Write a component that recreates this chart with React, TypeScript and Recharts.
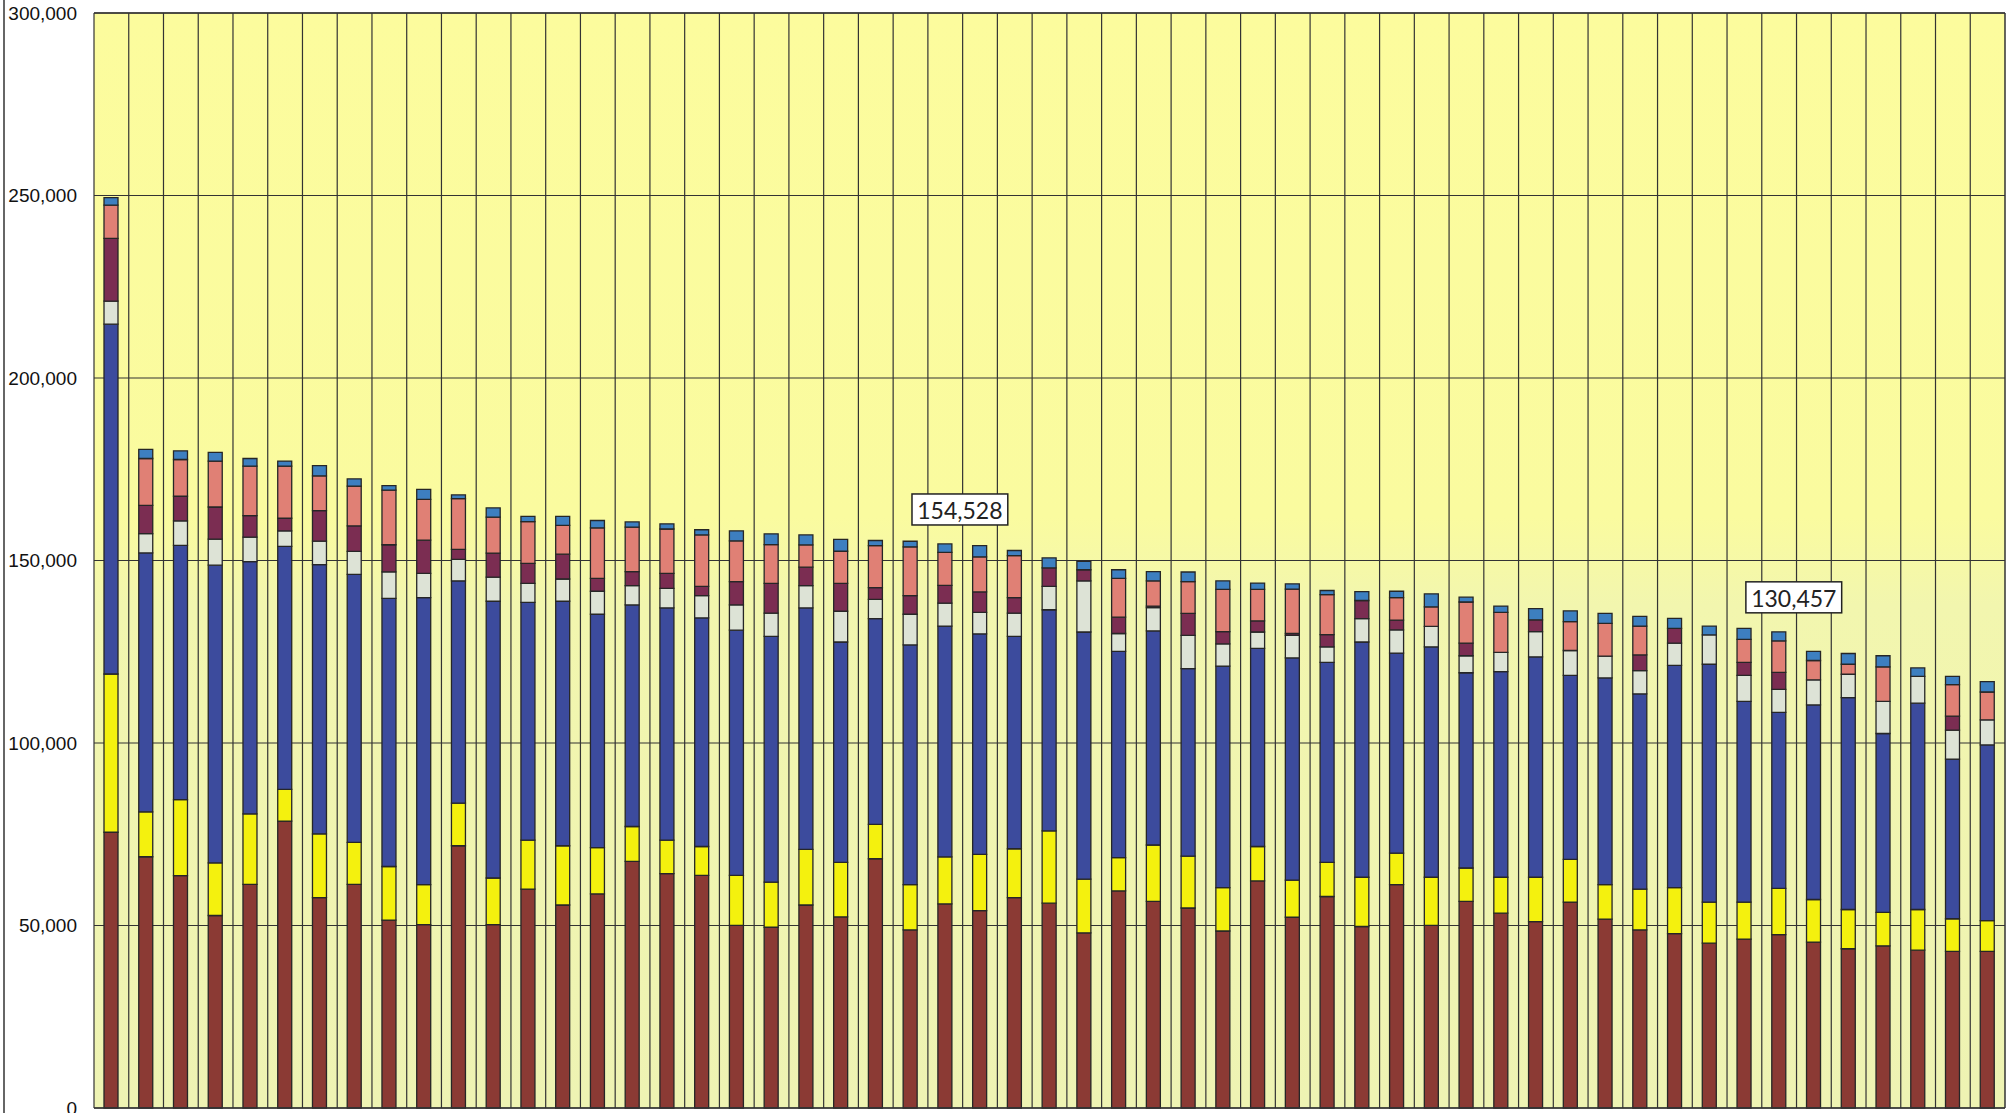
import { BarChart, Bar, XAxis, YAxis, CartesianGrid, LabelList, ReferenceLine } from "recharts";

// 55 stacked columns, bottom segment first
const brown = [75550, 68830, 63650, 52740, 61270, 78620, 57640, 61270, 51480, 50230, 71850, 50230, 59970, 55610, 58650, 67580, 64230, 63730, 50020, 49520, 55610, 52360, 68290, 48800, 55910, 54080, 57640, 56110, 47990, 59460, 56620, 54790, 48500, 62200, 52260, 57940, 49720, 61190, 50020, 56620, 53370, 51040, 56420, 51750, 48800, 47790, 45150, 46270, 47480, 45450, 43630, 44440, 43230, 42920, 42920];
const yellow = [43360, 12310, 20850, 14410, 19310, 8680, 17490, 11480, 14690, 10960, 11670, 12780, 13400, 16240, 12690, 9540, 9140, 7910, 13710, 12380, 15220, 14920, 9440, 12390, 12890, 15430, 13390, 19790, 14720, 9140, 15430, 14210, 11870, 9440, 10150, 9340, 13500, 8620, 13200, 9140, 9850, 12180, 11670, 9440, 11170, 12580, 11270, 10150, 12690, 11680, 10760, 9130, 11160, 8930, 8420];
const navy = [95840, 70930, 69670, 81560, 69110, 66590, 73720, 73440, 73450, 78660, 60900, 75830, 65160, 66990, 63940, 60700, 63640, 62630, 67190, 67290, 66180, 60390, 56330, 65670, 63230, 60390, 58160, 60600, 67700, 56530, 58660, 51360, 60700, 54300, 60900, 54810, 64450, 54820, 63130, 53490, 56340, 60390, 50450, 56630, 53490, 60910, 65160, 55010, 48220, 53290, 58060, 49030, 56530, 43750, 48120];
const light = [6290, 5320, 6710, 7140, 6720, 4200, 6440, 6300, 7270, 6600, 5880, 6590, 5180, 6090, 6300, 5280, 5380, 6090, 6900, 6400, 6090, 8430, 5280, 8420, 6300, 5890, 6400, 6400, 14010, 4870, 6400, 9140, 6090, 4470, 6190, 4260, 6390, 6390, 5580, 4660, 5270, 6900, 6800, 5990, 6390, 6090, 8020, 7110, 6290, 6900, 6390, 8830, 7310, 7910, 6900];
const maroon = [17210, 7690, 6720, 8810, 5870, 3490, 8390, 6990, 7420, 9130, 2750, 6600, 5480, 6800, 3550, 3850, 4060, 2540, 6390, 8120, 5070, 7610, 3250, 5080, 4870, 5590, 4260, 5070, 3040, 4470, 400, 5990, 3350, 3050, 500, 3350, 4980, 2640, 0, 3460, 0, 3250, 0, 0, 4270, 4060, 0, 3550, 4670, 0, 0, 0, 0, 3860, 0];
const salmon = [9090, 12870, 10070, 12590, 13570, 14270, 9510, 10920, 14970, 11170, 13900, 9850, 11470, 7910, 13800, 12190, 12180, 14100, 11170, 10650, 6090, 8830, 11470, 13400, 9030, 9640, 11470, 0, 0, 10660, 6910, 8720, 11570, 8620, 12180, 10970, 0, 6190, 5380, 11260, 10960, 0, 7920, 8940, 7920, 0, 0, 6290, 8630, 5280, 2740, 9440, 0, 8630, 7610];
const cap = [2100, 2520, 2380, 2380, 2100, 1400, 2800, 1960, 1260, 2740, 1020, 2530, 1420, 2440, 2030, 1420, 1420, 1420, 2740, 2950, 2740, 3250, 1420, 1520, 2298, 3040, 1420, 2740, 2340, 2330, 2530, 2640, 2340, 1730, 1430, 1110, 2430, 1720, 3560, 1320, 1730, 3050, 2940, 2740, 2640, 2740, 2430, 3050, 2477, 2530, 2940, 3040, 2330, 2230, 2840];

// columns that carry a total callout
const labelled = [24, 48];

const majorTicks = [0, 50000, 100000, 150000, 200000, 250000, 300000];
const minorTicks = Array.from({ length: 31 }, (_, i) => i * 10000);

const series = [
  { key: "brown", fill: "#8b3a34" },
  { key: "yellow", fill: "#f4f10e" },
  { key: "navy", fill: "#3c4b9d" },
  { key: "light", fill: "#dde3d6" },
  { key: "maroon", fill: "#7b2d52" },
  { key: "salmon", fill: "#e08075" },
  { key: "cap", fill: "#3d7fc0" },
];

const data = brown.map((b, i) => {
  const total = b + yellow[i] + navy[i] + light[i] + maroon[i] + salmon[i] + cap[i];
  return {
    name: `${i + 1}`,
    brown: b,
    yellow: yellow[i],
    navy: navy[i],
    light: light[i],
    maroon: maroon[i],
    salmon: salmon[i],
    cap: cap[i],
    total: labelled.includes(i) ? total : undefined,
  };
});

const TotalBox = (props: any) => {
  const { x, y, width, value } = props;
  if (value == null) return null;
  const text = Number(value).toLocaleString("en-US");
  const w = text.length * 12.4 + 9;
  const cx = x + width / 2 + 15;
  return (
    <g>
      <rect x={cx - w / 2} y={y - 50} width={w} height={31} fill="#ffffff" stroke="#222" strokeWidth={1.5} />
      <text x={cx} y={y - 34} textAnchor="middle" dominantBaseline="central" fontFamily="Lato, 'Open Sans', sans-serif" fontSize={23} fill="#222">
        {text}
      </text>
    </g>
  );
};

const gridStroke = "#333";

export default function App() {
  return (
    <div style={{ position: "absolute", left: 0, top: 0, width: 2011, height: 1113, background: "#ffffff", overflow: "hidden" }}>
      <div style={{ position: "absolute", left: 3, top: 0, width: 1.5, height: 1113, background: "#666" }} />
      <BarChart
        width={2011}
        height={1113}
        data={data}
        margin={{ top: 13, right: 6, bottom: 5, left: 0 }}
        barSize={14}
      >
        <defs>
          <linearGradient id="plotBg" x1="0" y1="0" x2="0" y2="1">
            <stop offset="0%" stopColor="#fcfc9d" />
            <stop offset="46%" stopColor="#fafb9f" />
            <stop offset="54%" stopColor="#f2f6ae" />
            <stop offset="100%" stopColor="#eef3b3" />
          </linearGradient>
        </defs>
        <XAxis xAxisId="cat" dataKey="name" height={0} tick={false} tickLine={false} axisLine={false} />
        <YAxis
          yAxisId="minor"
          domain={[0, 300000]}
          ticks={minorTicks}
          width={0}
          tickSize={5}
          tickFormatter={() => ""}
          axisLine={{ stroke: gridStroke, strokeWidth: 1.3 }}
          tickLine={{ stroke: gridStroke }}
        />
        <YAxis
          yAxisId="major"
          domain={[0, 300000]}
          ticks={majorTicks}
          interval={0}
          width={94}
          tickSize={6}
          tickMargin={11}
          tickLine={false}
          axisLine={false}
          tickFormatter={(v: number) => v.toLocaleString("en-US")}
          tick={{ fontFamily: "'Liberation Sans', Arial, sans-serif", fontSize: 19, fill: "#111" }}
        />
        <CartesianGrid
          xAxisId="cat"
          yAxisId="major"
          vertical={false}
          fill="url(#plotBg)"
          fillOpacity={1}
          stroke={gridStroke}
          strokeWidth={1.2}
        />
        {data.map((d) => (
          <ReferenceLine key={`v${d.name}`} xAxisId="cat" yAxisId="major" x={d.name} position="start" stroke={gridStroke} strokeWidth={1.2} />
        ))}
        <ReferenceLine xAxisId="cat" yAxisId="major" x={data[data.length - 1].name} position="end" stroke={gridStroke} strokeWidth={1.5} />
        <ReferenceLine xAxisId="cat" yAxisId="major" y={300000} stroke={gridStroke} strokeWidth={1.5} />
        <ReferenceLine xAxisId="cat" yAxisId="major" y={0} stroke={gridStroke} strokeWidth={1.5} />
        {series.map((s) => (
          <Bar
            key={s.key}
            dataKey={s.key}
            stackId="a"
            xAxisId="cat"
            yAxisId="major"
            fill={s.fill}
            stroke="#262626"
            strokeWidth={1.3}
            isAnimationActive={false}
          >
            {s.key === "cap" && <LabelList dataKey="total" content={TotalBox} />}
          </Bar>
        ))}
      </BarChart>
    </div>
  );
}
